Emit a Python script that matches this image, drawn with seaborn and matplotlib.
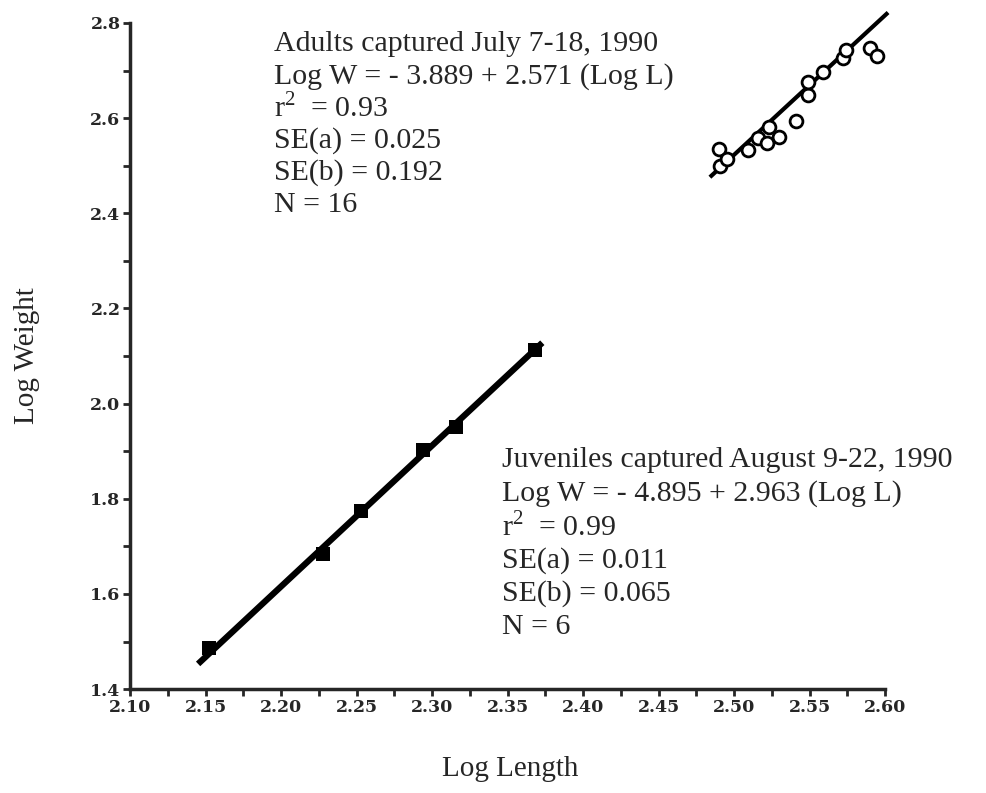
import numpy as np
import pandas as pd
import matplotlib
matplotlib.use("Agg")
import matplotlib.pyplot as plt
from matplotlib.ticker import MultipleLocator
import seaborn as sns

# juveniles (filled squares)
juv_L = [2.152, 2.228, 2.253, 2.294, 2.316, 2.368]
juv_W = [1.486, 1.685, 1.775, 1.902, 1.950, 2.112]

# adults (open circles)
adu_L = [2.490, 2.491, 2.495, 2.509, 2.516, 2.522, 2.523, 2.530,
         2.541, 2.549, 2.549, 2.559, 2.572, 2.574, 2.590, 2.595]
adu_W = [2.535, 2.500, 2.515, 2.533, 2.558, 2.547, 2.581, 2.560,
         2.594, 2.648, 2.676, 2.697, 2.726, 2.743, 2.747, 2.731]

# ends of the fitted lines as drawn
juv_fit_L = [2.145, 2.373]
juv_fit_W = [1.453, 2.128]
adu_fit_L = [2.484, 2.602]
adu_fit_W = [2.476, 2.822]

adult_txt = ["Adults captured July 7-18, 1990",
             "Log W = - 3.889 + 2.571 (Log L)",
             r"r$^{2}$  = 0.93",
             "SE(a) = 0.025",
             "SE(b) = 0.192",
             "N = 16"]
juv_txt = ["Juveniles captured August 9-22, 1990",
           "Log W = - 4.895 + 2.963 (Log L)",
           r"r$^{2}$  = 0.99",
           "SE(a) = 0.011",
           "SE(b) = 0.065",
           "N = 6"]

sns.set_style("ticks")
plt.rcParams['font.family'] = ['Liberation Serif', 'DejaVu Serif']
plt.rcParams['mathtext.fontset'] = 'custom'
plt.rcParams['mathtext.rm'] = 'Liberation Serif'

fig = plt.figure(figsize=(9.86, 7.93), dpi=100)
ax = fig.add_axes([0.132, 0.131, 0.7656, 0.84])

juv = pd.DataFrame({"L": juv_L, "W": juv_W})
adu = pd.DataFrame({"L": adu_L, "W": adu_W})

ax.plot(juv_fit_L, juv_fit_W, color='black', lw=4.5, solid_capstyle='butt', clip_on=False)
ax.plot(adu_fit_L, adu_fit_W, color='black', lw=3, solid_capstyle='butt', clip_on=False)
sns.scatterplot(data=juv, x="L", y="W", marker='s', s=110, color='black',
                edgecolor='black', linewidth=0, ax=ax, zorder=3)
sns.scatterplot(data=adu, x="L", y="W", marker='o', s=85, facecolor='white',
                edgecolor='black', linewidth=2, ax=ax, zorder=3)

ax.set_xlim(2.10, 2.60)
ax.set_ylim(1.4, 2.8)
ax.xaxis.set_major_locator(MultipleLocator(0.05))
ax.xaxis.set_minor_locator(MultipleLocator(0.025))
ax.yaxis.set_major_locator(MultipleLocator(0.2))
ax.yaxis.set_minor_locator(MultipleLocator(0.1))
ax.set_xticklabels([f"{v:.2f}" for v in ax.get_xticks()])
ax.set_yticklabels([f"{v:.1f}" for v in ax.get_yticks()])
ax.tick_params(which='both', direction='out', length=5, width=2, pad=2)
for lab in ax.get_xticklabels() + ax.get_yticklabels():
    lab.set_fontfamily('DejaVu Serif')
    lab.set_fontweight('bold')
    lab.set_fontsize(12.5)

sns.despine(ax=ax)
for s in ['left', 'bottom']:
    ax.spines[s].set_linewidth(2.5)

ax.set_xlabel("Log Length", fontsize=21)
ax.set_ylabel("Log Weight", fontsize=21)
ax.xaxis.set_label_coords(0.503, -0.10)
ax.yaxis.set_label_coords(-0.12, 0.5)

# annotation blocks, one line per text
for i, t in enumerate(adult_txt):
    fig.text(274 / 986, 1 - (44 + 32.2 * i) / 793, t, fontsize=21.5, va='center', ha='left')
for i, t in enumerate(juv_txt):
    fig.text(502 / 986, 1 - (460 + 33.5 * i) / 793, t, fontsize=21.5, va='center', ha='left')

fig.savefig("out.png", dpi=100)
